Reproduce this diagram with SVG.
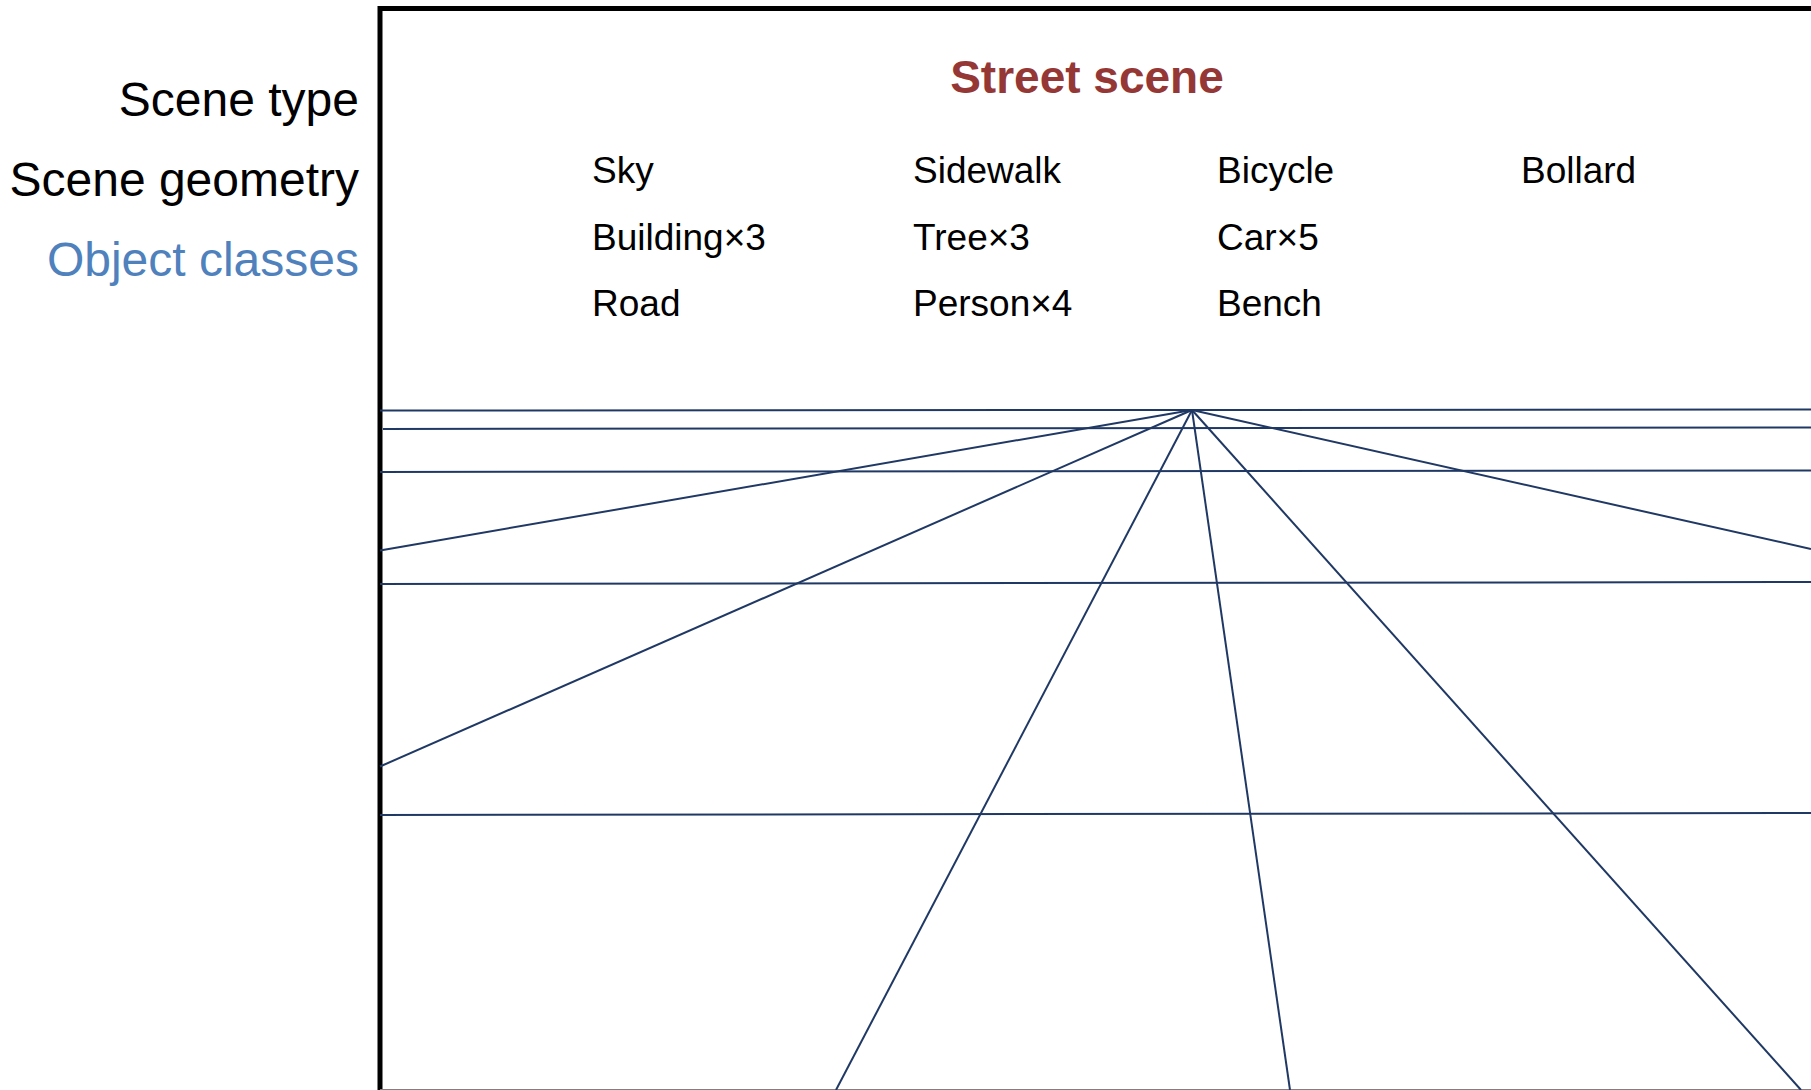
<svg xmlns="http://www.w3.org/2000/svg" width="1811" height="1090" viewBox="0 0 1811 1090">
  <style>
    .lbl { font-family: "Liberation Sans", Arial, sans-serif; font-size: 48px; text-anchor: end; fill: #000; }
    .obj { font-family: "Liberation Sans", Arial, sans-serif; font-size: 37px; fill: #000; }
    .title { font-family: "Liberation Sans", Arial, sans-serif; font-size: 46px; font-weight: bold; fill: #953735; text-anchor: middle; }
    .geo { stroke: #1F3864; stroke-width: 2; fill: none; }
  </style>
  <rect width="1811" height="1090" fill="#fff"/>

  <!-- image frame -->
  <g id="frame">
    <path d="M380,1095 V8.5 H1815" fill="none" stroke="#000" stroke-width="5"/>
    <line x1="380" y1="1089.5" x2="1811" y2="1089.5" stroke="#808080" stroke-width="1"/>
  </g>

  <!-- row labels on the left -->
  <g id="row-labels">
    <text class="lbl" x="359" y="116">Scene type</text>
    <text class="lbl" x="359" y="196">Scene geometry</text>
    <text class="lbl" x="359" y="276" style="fill:#4F81BD">Object classes</text>
  </g>

  <g id="scene-title">
    <text class="title" x="1087" y="93">Street scene</text>
  </g>

  <!-- object class list, four columns -->
  <g id="object-list">
    <text class="obj" x="592" y="183">Sky</text>
    <text class="obj" x="592" y="250">Building×3</text>
    <text class="obj" x="592" y="316">Road</text>
    <text class="obj" x="913" y="183">Sidewalk</text>
    <text class="obj" x="913" y="250">Tree×3</text>
    <text class="obj" x="913" y="316">Person×4</text>
    <text class="obj" x="1217" y="183">Bicycle</text>
    <text class="obj" x="1217" y="250">Car×5</text>
    <text class="obj" x="1217" y="316">Bench</text>
    <text class="obj" x="1521" y="183">Bollard</text>
  </g>

  <!-- perspective geometry: horizontal bands and rays from the vanishing point -->
  <g id="geometry" class="geo">
    <line x1="380" y1="410.5" x2="1811" y2="409.5"/>
    <line x1="383" y1="429" x2="1811" y2="427.5"/>
    <line x1="380" y1="472" x2="1811" y2="470.5"/>
    <line x1="380" y1="584" x2="1811" y2="582"/>
    <line x1="380" y1="815" x2="1811" y2="813"/>
    <line x1="1192" y1="410" x2="380" y2="550.5"/>
    <line x1="1192" y1="410" x2="380" y2="766.5"/>
    <line x1="1192" y1="410" x2="836" y2="1090"/>
    <line x1="1192" y1="410" x2="1290" y2="1090"/>
    <line x1="1192" y1="410" x2="1801" y2="1090"/>
    <line x1="1192" y1="410" x2="1811" y2="549"/>
  </g>
</svg>
